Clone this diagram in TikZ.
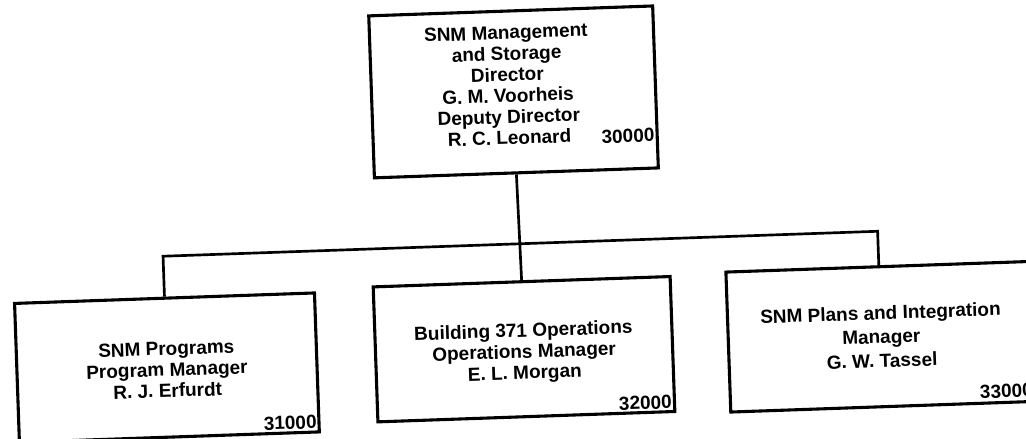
\documentclass[tikz,border=0pt]{standalone}
\usepackage{fontspec}
\setmainfont{Liberation Sans}
\usetikzlibrary{positioning}

\begin{document}
\begin{tikzpicture}[x=0.025cm, y=-0.025cm,
    every node/.style={font=\fontsize{13.5}{15}\selectfont\bfseries},
    unit/.style={draw, line width=2.2pt, inner sep=0pt},
    txt/.style={align=center, inner sep=0pt},
    num/.style={inner sep=0pt, anchor=base east},
    link/.style={line width=1.9pt}]
    \useasboundingbox (0,0) rectangle (1026,439);
    \begin{scope}[rotate around={2:(513,220)}, transform shape]
    \node[unit, minimum width=7.1cm, minimum height=4.05cm] (dir) at (518,92) {};
    \node[txt, below=0.4cm of dir.north, xshift=-0.14cm] (dirtxt) {SNM Management\\and Storage\\Director\\G. M. Voorheis\\Deputy Director\\R. C. Leonard};
    \node[num] (dirnum) at ([xshift=-0.1cm, yshift=0.7cm]dir.south east) {30000};

    \node[unit, minimum width=7.5cm, minimum height=3.475cm] (prog) at (162,355.5) {};
    \node[txt] (progtxt) at ([yshift=-0.05cm]prog.center) {SNM Programs\\Program Manager\\R. J. Erfurdt};
    \node[num] (prognum) at ([xshift=-0.09cm, yshift=0.13cm]prog.south east) {31000};

    \node[unit, minimum width=7.425cm, minimum height=3.375cm] (ops) at (519.5,349.5) {};
    \node[txt] (opstxt) at ([yshift=-0.1cm]ops.center) {Building 371 Operations\\Operations Manager\\E. L. Morgan};
    \node[num] (opsnum) at ([xshift=-0.1cm, yshift=0.12cm]ops.south east) {32000};

    \node[unit, minimum width=7.65cm, minimum height=3.5cm] (plan) at (877,349.5) {};
    \node[txt, font=\fontsize{13.5}{17}\selectfont\bfseries] (plantxt) at ([yshift=0.0cm]plan.center) {SNM Plans and Integration\\Manager\\G. W. Tassel};
    \node[num] (plannum) at ([xshift=-0.12cm, yshift=0.16cm]plan.south east) {33000};

    \coordinate (barl) at (162,244);
    \coordinate (barr) at (877,244);
    \draw[link] (dir.south) -- (ops.north);
    \draw[link] (prog.north) -- (barl) -- (barr) -- (plan.north);
    \end{scope}
\end{tikzpicture}
\end{document}
